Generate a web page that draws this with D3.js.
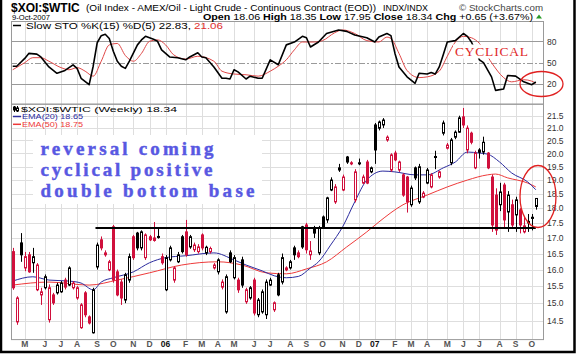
<!DOCTYPE html>
<html><head><meta charset="utf-8">
<script src="https://cdn.jsdelivr.net/npm/d3@7"></script>
<style>body{margin:0;background:#fff}svg{display:block}</style>
</head><body>
<svg id="c" width="576" height="355"></svg>
<script>
// ---------------- data ----------------
const startWeek = new Date(2005, 3, 11); // first weekly bar (Mon 11-Apr-2005)
const weekOpen  = [16.56,14.47,16.84,16.05,16.46,16.21,15.39,15.24,15.45,14.53,15.24,15.30,15.33,15.68,15.53,15.45,15.15,14.31,15.30,14.61,14.17,16.08,16.94,16.46,15.99,17.37,15.93,15.62,15.09,15.68,17.04,17.16,16.68,16.37,17.04,17.00,17.02,16.40,15.39,16.30,15.68,16.24,17.04,17.20,16.71,16.62,16.56,17.10,16.52,16.56,16.05,15.93,15.47,14.75,16.52,15.75,15.68,16.30,15.04,15.15,15.68,14.67,14.75,14.67,15.53,14.81,15.84,15.62,15.99,16.05,16.68,16.52,17.37,17.43,16.46,17.33,16.52,17.70,17.60,18.64,18.22,19.37,18.64,19.86,19.64,18.29,19.60,18.89,19.67,19.30,21.12,20.99,21.12,20.52,19.37,20.01,19.37,19.19,19.11,18.12,19.45,18.22,18.39,18.89,18.75,19.84,19.11,20.79,20.20,19.64,20.63,20.83,21.45,20.13,20.79,19.45,20.13,20.05,20.01,19.11,18.46,18.12,18.82,17.87,18.12,17.77,17.94,17.20,17.50,17.65,18.06];
const weekHigh  = [16.68,15.20,17.16,16.55,16.55,16.68,16.20,15.45,15.85,15.55,15.30,15.60,15.65,15.75,16.10,15.65,15.50,15.00,15.35,14.65,15.45,16.85,17.05,16.60,16.30,17.43,16.00,15.70,15.90,16.50,17.10,17.20,17.25,17.15,17.10,17.53,17.33,16.50,16.45,16.75,16.10,16.55,17.10,17.60,17.10,16.85,16.80,17.15,16.75,16.72,16.20,16.35,15.70,15.85,16.60,16.45,15.75,16.40,15.45,15.50,15.75,15.15,15.40,15.70,15.75,15.05,15.90,16.50,16.10,16.30,16.75,16.60,17.40,17.50,16.90,17.40,17.40,17.75,18.40,19.10,18.85,19.60,19.20,19.90,19.70,19.40,19.80,19.20,19.75,19.50,21.20,21.30,21.40,20.70,20.00,20.10,19.72,19.25,19.15,18.80,19.50,19.60,18.60,19.45,19.25,20.10,19.35,21.30,20.40,20.60,20.90,21.50,21.82,21.10,20.85,20.10,20.20,20.65,20.05,19.20,18.70,18.90,18.90,18.60,18.30,18.40,18.00,17.70,17.80,17.80,18.35];
const weekLow   = [15.39,14.39,16.24,15.95,15.90,15.90,15.35,14.95,15.40,14.45,14.95,15.25,15.30,15.40,15.50,15.40,15.10,14.28,14.60,14.40,14.15,16.00,16.60,16.40,15.95,15.60,15.20,14.95,15.00,15.60,16.30,16.60,16.60,16.30,16.90,16.88,16.98,16.15,15.35,16.25,15.60,16.20,16.50,16.40,16.65,16.55,16.50,16.60,16.45,16.50,16.00,15.85,15.40,14.70,16.20,15.70,15.30,15.45,14.98,15.10,14.65,14.60,14.70,14.55,15.50,14.75,15.20,15.55,15.95,16.00,16.30,16.35,16.65,16.50,16.30,17.00,16.45,17.30,17.50,18.60,18.15,19.30,18.60,19.60,19.55,18.20,19.55,18.85,18.85,19.25,19.60,20.90,21.00,20.45,19.30,19.70,19.30,18.40,17.85,18.05,19.00,18.15,18.35,18.85,18.70,19.40,19.05,20.70,20.15,19.55,20.55,20.80,21.00,20.00,20.35,19.40,19.80,19.95,19.40,17.20,17.10,17.90,17.30,17.20,17.30,17.20,17.15,17.15,17.20,17.25,17.95];
const weekClose = [15.45,15.15,16.46,16.40,15.93,16.40,16.14,15.33,15.78,15.45,15.01,15.53,15.59,15.47,16.05,15.59,15.45,14.95,14.67,14.44,15.39,16.77,16.68,16.52,16.24,15.68,15.24,15.15,15.84,16.40,16.37,16.68,17.20,17.10,16.94,16.92,17.05,16.21,16.37,16.68,16.05,16.46,16.56,16.46,17.04,16.77,16.71,16.68,16.70,16.66,16.14,16.30,15.62,15.78,16.24,16.37,15.39,15.53,15.39,15.45,14.72,15.09,15.33,15.62,15.68,15.01,15.24,16.37,16.05,16.24,16.46,16.40,16.71,16.62,16.58,17.16,17.33,17.37,18.36,19.00,18.75,19.45,19.11,19.67,19.60,19.30,19.64,19.11,18.89,19.45,20.13,21.24,21.32,20.63,19.94,19.75,19.67,18.46,18.22,18.71,19.08,19.49,18.53,19.37,19.19,19.88,19.30,21.20,20.32,20.52,20.83,21.41,21.12,20.99,20.43,20.01,20.04,20.43,19.45,17.43,17.26,18.57,17.60,18.46,17.43,18.29,17.43,17.40,17.55,17.69,18.34];

// EMA readings (week index, value)
const ema20Week = [0,5,9,14,17,20,22,25,30,34,38,43,50,55,58,62,65,68,71,74,76,79,82,85,88,92,95,100,103,107,110,113,116,118,121,124,128,130];
const ema20Val  = [15.65,15.78,15.68,15.65,15.59,15.39,15.62,15.75,15.93,16.21,16.37,16.43,16.52,16.30,16.14,15.96,15.81,15.75,15.79,16.05,16.24,16.77,17.37,18.22,19.0,19.33,19.30,19.19,19.19,19.45,19.67,20.05,20.01,19.97,19.67,19.26,18.93,18.65];
const ema50Week = [0,9,19,26,34,42,51,57,63,68,73,78,83,88,91,97,103,108,113,118,120,123,128,130];
const ema50Val  = [15.53,15.62,15.53,15.68,15.90,16.14,16.24,16.14,15.90,15.87,16.02,16.24,16.71,17.20,17.53,18.12,18.46,18.75,19.0,19.19,19.22,19.08,18.89,18.75];

// Slow stochastic readings (week index, value)
const kWeek = [0,1,3,4,6,7,9,11,13,15,16,17,19,20,21,22,23,24,25,26,27,28,29,31,32,33,35,36,37,39,41,43,44,46,47,48,50,52,53,54,55,56,58,59,61,62,64,66,68,70,72,73,74,76,78,81,83,85,88,90,91,93,94,95,96,98,100,101,103,104,105,106,107,108,110,112,113,114,116,117,119,120,122,123,125,127,129,130];
const kVal  = [45,45,56,63,62,58,44,35,39,47,42,28,19,45,78,88,90,84,66,52,45,42,52,75,82,87,83,80,68,58,57,54,58,64,58,57,44,28,28,27,40,37,27,31,28,28,54,47,75,79,87,85,72,79,91,96,94,89,85,79,86,91,88,63,44,30,21,35,34,36,34,44,61,79,81,91,87,79,54,50,30,11,13,32,31,23,19,22.83];
const dWeek = [0,3,5,7,9,12,14,16,18,20,22,24,26,28,30,32,34,36,38,40,43,46,50,52,55,58,61,64,66,68,70,72,75,77,80,82,85,88,91,93,94,96,98,101,103,106,108,110,112,114,116,119,122,124,127,129,130];
const dVal  = [40,50,57,57,52,43,40,43,38,31,52,75,77,60,52,63,80,82,75,61,55,59,52,38,34,33,31,38,45,54,68,79,79,81,92,96,91,81,79,86,84,63,39,29,30,38,59,79,87,85,77,50,29,23,26,24,21.06];

const priceTicks = [14.5,15.0,15.5,16.0,16.5,17.0,17.5,18.0,18.5,19.0,19.5,20.0,20.5,21.0,21.5];
const stoLevels = [20,50,80];
const supportLevel = 17.33;
const supportStart = new Date(2005, 8, 2);
const noteLines = ["reversal coming","cyclical positive","double bottom base"];

// ---------------- layout ----------------
const SANS = "Arial, 'Liberation Sans', sans-serif";
const SERIF = "'Liberation Serif', 'Times New Roman', serif";
const svg = d3.select("#c").attr("font-family", SANS);
const L = 11, R = 543;
const stoTop = 21, stoBot = 103.7, priceTop = 103.7, priceBot = 339.1;
const n = weekClose.length;
const dates = d3.range(n).map(i => d3.timeMonday.offset(startWeek, i));
const x = d3.scaleTime().domain([dates[0], dates[n-1]]).range([12.7, 535.8]);
const xi = i => x(d3.timeMonday.offset(startWeek, i));
const y = d3.scaleLog().domain([14, 22]).range([priceBot, priceTop]);
const ys = d3.scaleLinear().domain([0, 100]).range([98.2, 27.1]);

svg.append("rect").attr("width",576).attr("height",355).attr("fill","#fff");

// month gridlines
const monthIdx = d3.range(1, n).filter(i => dates[i].getMonth() !== dates[i-1].getMonth());
const grid = svg.append("g").attr("stroke","#dedede").attr("stroke-width",1);
monthIdx.forEach(i => {
  const gx = Math.round(x(dates[i])) + 0.5;
  grid.append("line").attr("x1",gx).attr("x2",gx).attr("y1",stoTop).attr("y2",priceBot);
});
priceTicks.forEach(p => {
  const gy = Math.round(y(p)) + 0.5;
  grid.append("line").attr("x1",L).attr("x2",R).attr("y1",gy).attr("y2",gy);
});

// STO level lines
stoLevels.forEach(v => {
  const gy = Math.round(ys(v)) + 0.5;
  svg.append("line").attr("x1",L).attr("x2",R).attr("y1",gy).attr("y2",gy)
    .attr("stroke", "#9a9a9a").attr("stroke-width",1)
    .attr("stroke-dasharray", v === 50 ? "6,2,2,2" : null);
});

// frames
svg.append("rect").attr("x",L+0.5).attr("y",stoTop+0.5).attr("width",R-L).attr("height",stoBot-stoTop)
  .attr("fill","none").attr("stroke","#9a9a9a");
svg.append("rect").attr("x",L+0.5).attr("y",priceTop+0.5).attr("width",R-L).attr("height",priceBot-priceTop)
  .attr("fill","none").attr("stroke","#9a9a9a");

// axis labels (right)
const yAxis = d3.axisRight(y).tickValues(priceTicks).tickFormat(d3.format(".1f")).tickSize(0).tickPadding(4);
const ga = svg.append("g").attr("transform",`translate(${R},0)`).call(yAxis);
ga.select(".domain").remove();
ga.selectAll("text").attr("font-size",8.5).attr("fill","#333").attr("font-family",SANS);
const sAxis = d3.axisRight(ys).tickValues(stoLevels).tickSize(0).tickPadding(4);
const gs = svg.append("g").attr("transform",`translate(${R},0)`).call(sAxis);
gs.select(".domain").remove();
gs.selectAll("text").attr("font-size",8.5).attr("fill","#333").attr("font-family",SANS);

// month labels
const mLetters = "JFMAMJJASOND";
monthIdx.forEach(i => {
  const d = dates[i], m = d.getMonth();
  svg.append("text").attr("x", x(d)).attr("y", 347).attr("text-anchor","middle")
    .attr("font-size", 8.5).attr("font-weight","bold")
    .attr("fill", m === 0 ? "#111" : "#555")
    .text(m === 0 ? d3.timeFormat("%y")(d) : mLetters[m]);
});

// EMA lines
const emaLine = d3.line().x(d => xi(d[0])).y(d => y(d[1])).curve(d3.curveMonotoneX);
svg.append("path").attr("d", emaLine(d3.zip(ema50Week, ema50Val))).attr("fill","none").attr("stroke","#ee3a3a").attr("stroke-width",1);
svg.append("path").attr("d", emaLine(d3.zip(ema20Week, ema20Val))).attr("fill","none").attr("stroke","#2b2b9e").attr("stroke-width",1);

// candles
const RED = "#d0103c";
const cg = svg.append("g");
for (let i = 0; i < n; i++) {
  const o = weekOpen[i], h = weekHigh[i], l = weekLow[i], c = weekClose[i];
  const up = i === 0 ? c >= o : c >= weekClose[i-1];
  const col = up ? "#000" : RED;
  const cx = Math.round(x(dates[i]));
  cg.append("line").attr("x1",cx+0.5).attr("x2",cx+0.5).attr("y1",y(h)).attr("y2",y(l)).attr("stroke",col).attr("stroke-width",1);
  const top = y(Math.max(o,c)), bot = y(Math.min(o,c));
  if (c >= o) {
    cg.append("rect").attr("x",cx-0.5).attr("y",top).attr("width",2).attr("height",Math.max(1,bot-top))
      .attr("fill","#fff").attr("stroke",col).attr("stroke-width",1);
  } else {
    cg.append("rect").attr("x",cx-1).attr("y",top-0.5).attr("width",3).attr("height",Math.max(1.5,bot-top+1))
      .attr("fill",col);
  }
}

// support line
svg.append("line").attr("x1",x(supportStart)).attr("x2",x(dates[n-1])).attr("y1",y(supportLevel)).attr("y2",y(supportLevel))
  .attr("stroke","#000").attr("stroke-width",2);

// stochastic lines
svg.append("path").attr("d", d3.line().x(d => xi(d[0])).y(d => ys(d[1])).curve(d3.curveMonotoneX)(d3.zip(dWeek, dVal)))
  .attr("fill","none").attr("stroke","#e04848").attr("stroke-width",1);
svg.append("path").attr("d", d3.line().x(d => xi(d[0])).y(d => ys(d[1]))(d3.zip(kWeek, kVal)))
  .attr("fill","none").attr("stroke","#000").attr("stroke-width",1.6).attr("stroke-linejoin","round");

// header texts
svg.append("text").attr("x",11).attr("y",11.5).attr("font-size",12).attr("font-weight","bold").text("$XOI:$WTIC");
svg.append("text").attr("x",86).attr("y",11).attr("font-size",9).attr("textLength",290).attr("lengthAdjust","spacingAndGlyphs")
  .text("(Oil Index - AMEX/Oil - Light Crude - Continuous Contract (EOD))");
svg.append("text").attr("x",383).attr("y",11).attr("font-size",8.5).attr("textLength",45).attr("lengthAdjust","spacingAndGlyphs").text("INDX/INDX");
svg.append("text").attr("x",459).attr("y",11).attr("font-size",9).attr("fill","#444").attr("textLength",84).attr("lengthAdjust","spacingAndGlyphs").text("© StockCharts.com");
svg.append("text").attr("x",12).attr("y",20).attr("font-size",8).attr("textLength",38).attr("lengthAdjust","spacingAndGlyphs").text("9-Oct-2007");
const ql = svg.append("text").attr("x",203).attr("y",19.5).attr("font-size",9).attr("textLength",330).attr("lengthAdjust","spacingAndGlyphs");
[["Open",1],[" 18.06  ",0],["High",1],[" 18.35  ",0],["Low",1],[" 17.95  ",0],["Close",1],[" 18.34  ",0],["Chg",1],[" +0.65 (+3.67%)",0]]
  .forEach(([t,b]) => ql.append("tspan").attr("font-weight", b ? "bold" : "normal").text(t));
svg.append("path").attr("d","M536,18.5 L539,14.5 L542,18.5 Z").attr("fill","#2a9a2a");

// STO legend
svg.append("line").attr("x1",13).attr("x2",21).attr("y1",25.5).attr("y2",25.5).attr("stroke","#000").attr("stroke-width",1.5);
const sl = svg.append("text").attr("x",26).attr("y",28.5).attr("font-size",8.5).attr("textLength",197).attr("lengthAdjust","spacingAndGlyphs");
sl.append("tspan").text("Slow STO %K(15) %D(5) 22.83, ");
sl.append("tspan").attr("fill","#e03030").text("21.06");

// price legend
const ic = svg.append("g").attr("stroke","#000");
ic.append("line").attr("x1",14.5).attr("x2",14.5).attr("y1",106).attr("y2",112);
ic.append("rect").attr("x",13.5).attr("y",107).attr("width",2).attr("height",3).attr("fill","#000");
ic.append("line").attr("x1",17.5).attr("x2",17.5).attr("y1",106).attr("y2",112);
ic.append("rect").attr("x",16.5).attr("y",108).attr("width",2).attr("height",3).attr("fill","#fff");
svg.append("text").attr("x",21).attr("y",111.5).attr("font-size",8).attr("textLength",156).attr("lengthAdjust","spacingAndGlyphs").text("$XOI:$WTIC (Weekly) 18.34");
svg.append("line").attr("x1",13).attr("x2",21).attr("y1",116.5).attr("y2",116.5).attr("stroke","#2b2b9e").attr("stroke-width",1.5);
svg.append("text").attr("x",22).attr("y",119.3).attr("font-size",8).attr("fill","#2b2b9e").attr("textLength",61).attr("lengthAdjust","spacingAndGlyphs").text("EMA(20) 18.65");
svg.append("line").attr("x1",13).attr("x2",21).attr("y1",124.3).attr("y2",124.3).attr("stroke","#ee3a3a").attr("stroke-width",1.5);
svg.append("text").attr("x",22).attr("y",127.2).attr("font-size",8).attr("fill","#ee3a3a").attr("textLength",61).attr("lengthAdjust","spacingAndGlyphs").text("EMA(50) 18.75");

// annotations
svg.append("rect").attr("x",33).attr("y",135).attr("width",229).attr("height",69).attr("fill","#fff");
const noteX = 40.5, noteY = [154.5, 176, 196.7], noteW = [173, 172, 214];
noteLines.forEach((t, k) => {
  svg.append("text").attr("x",noteX).attr("y",noteY[k]).attr("font-family",SERIF)
    .attr("font-size",19).attr("font-weight","bold").attr("fill","#5858e2")
    .attr("stroke","#5858e2").attr("stroke-width",0.45)
    .attr("textLength",noteW[k]).attr("lengthAdjust","spacing").text(t);
});
svg.append("rect").attr("x",453).attr("y",44.5).attr("width",78).attr("height",14).attr("fill","#fff");
svg.append("text").attr("x",455).attr("y",56).attr("font-family",SERIF)
  .attr("font-size",13.5).attr("fill","#e02a2a").attr("textLength",73).attr("lengthAdjust","spacing").text("CYCLICAL");
svg.append("ellipse").attr("cx",541.5).attr("cy",84).attr("rx",21.5).attr("ry",12.5).attr("fill","none").attr("stroke","#e02020").attr("stroke-width",1.3);
svg.append("ellipse").attr("cx",538).attr("cy",196.5).attr("rx",18).attr("ry",31).attr("fill","none").attr("stroke","#e02020").attr("stroke-width",1.3);

// outer frame
svg.append("path").attr("d","M1,0 V352 H574.5 V0").attr("fill","none").attr("stroke","#000").attr("stroke-width",2.5);
</script>
</body></html>
